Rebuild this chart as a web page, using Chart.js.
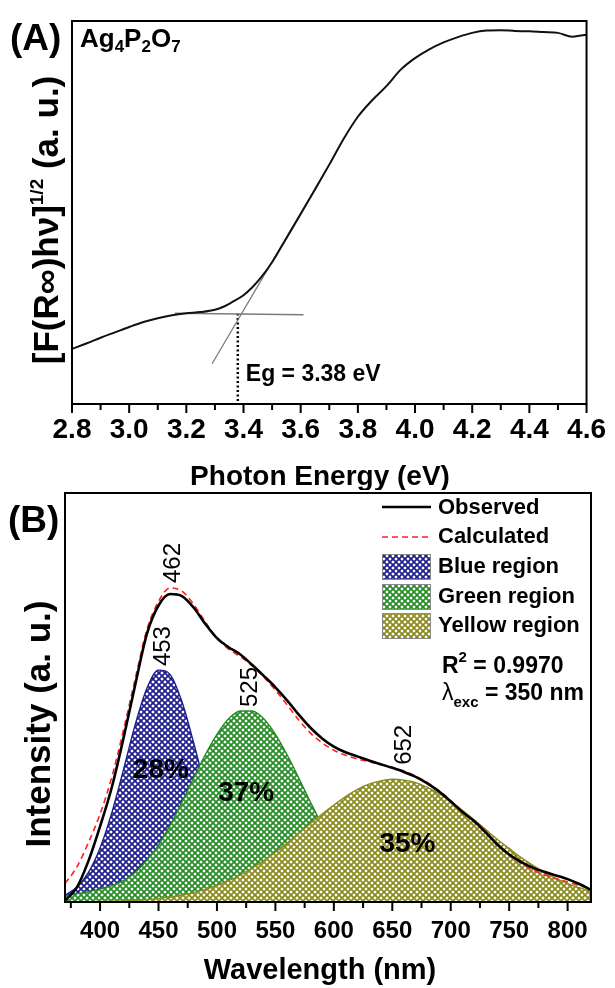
<!DOCTYPE html>
<html>
<head>
<meta charset="utf-8">
<script src="https://cdn.jsdelivr.net/npm/chart.js@4.4.1/dist/chart.umd.min.js"></script>
<style>
  html, body { margin: 0; padding: 0; background: #fff; }
  #wrap { position: relative; width: 615px; height: 988px; }
  #chartA { position: absolute; left: 0; top: 0; }
  #chartB { position: absolute; left: 0; top: 490px; }
</style>
</head>
<body>
<div id="wrap">
  <canvas id="chartA" width="615" height="490" style="width:615px;height:490px"></canvas>
  <canvas id="chartB" width="615" height="498" style="width:615px;height:498px"></canvas>
</div>
<script>
// ---- (A) Kubelka-Munk plot ----
var energy = [2.80, 2.85, 2.90, 2.95, 3.00, 3.05, 3.10, 3.15, 3.20, 3.25, 3.30, 3.33, 3.36, 3.40, 3.43, 3.46,
              3.50, 3.55, 3.60, 3.65, 3.70, 3.75, 3.80, 3.85, 3.90, 3.95, 4.00, 4.05, 4.10, 4.15, 4.20, 4.25,
              4.30, 4.35, 4.40, 4.45, 4.50, 4.55, 4.58, 4.60];
var kmSignal = [14.4, 15.8, 17.3, 18.7, 20.1, 21.4, 22.4, 23.2, 23.7, 24.0, 24.6, 25.4, 26.6, 28.4, 30.4, 32.9,
                37.0, 43.3, 49.6, 56.0, 62.5, 69.2, 75.0, 79.3, 83.0, 87.3, 90.3, 92.6, 94.4, 95.8, 96.9, 97.5,
                97.6, 97.4, 97.3, 97.1, 96.9, 95.9, 96.2, 96.4];
var slopeX = [3.29, 3.70];
var slopeY = [10.5, 62.5];
var baseX = [3.16, 3.61];
var baseY = [23.7, 23.3];
var bandGap = 3.38;
var energyTicks = [2.8, 3.0, 3.2, 3.4, 3.6, 3.8, 4.0, 4.2, 4.4, 4.6];
var energyMinor = [2.9, 3.1, 3.3, 3.5, 3.7, 3.9, 4.1, 4.3, 4.5];

// ---- (B) PL spectrum with Gaussian deconvolution ----
var wavelength = [370, 380, 390, 400, 410, 420, 430, 440, 450, 460, 470, 480, 490, 500, 510, 520,
                  530, 540, 550, 560, 570, 580, 590, 600, 610, 620, 630, 640, 650, 660, 670, 680,
                  690, 700, 710, 720, 730, 740, 750, 760, 770, 780, 790, 800, 810, 820];
var observed = [0.3, 3.5, 10.0, 18.5, 28.0, 40.0, 53.0, 65.5, 72.5, 75.3, 74.8, 72.0, 68.0, 64.5, 62.3, 60.5,
                58.0, 55.3, 52.5, 49.3, 45.8, 42.6, 40.0, 38.0, 36.6, 35.6, 34.6, 33.7, 32.8, 31.8, 30.6, 29.0,
                27.0, 24.6, 22.0, 19.8, 17.0, 14.0, 11.6, 9.8, 8.4, 7.4, 6.5, 5.6, 4.4, 3.0];
var calculated = [4.5, 8.5, 14.5, 21.5, 30.5, 42.0, 54.5, 66.5, 73.5, 76.8, 76.0, 72.8, 68.5, 64.5, 61.8, 60.0,
                  57.8, 55.0, 51.8, 48.2, 44.5, 41.3, 38.9, 37.1, 35.9, 35.0, 34.3, 33.6, 32.9, 32.0, 30.8, 29.2,
                  27.2, 24.8, 22.1, 19.6, 16.8, 14.0, 11.5, 9.5, 7.9, 6.7, 5.7, 4.9, 4.0, 3.2];
var blueBand = [1.6, 3.6, 7.2, 13.2, 21.8, 32.3, 43.3, 52.2, 56.7, 55.6, 49.0, 39.0, 28.0, 18.1, 10.5, 5.5,
                2.6, 1.1, 0.4, 0.15, 0.05, 0, 0, 0, 0, 0, 0, 0, 0, 0, 0, 0,
                0, 0, 0, 0, 0, 0, 0, 0, 0, 0, 0, 0, 0, 0];
var greenBand = [1.5, 2.0, 2.5, 3.2, 4.0, 5.2, 7.2, 10.2, 13.9, 18.8, 24.4, 30.3, 36.0, 41.0, 44.8, 46.7,
                 46.7, 44.8, 41.0, 36.0, 30.3, 24.4, 18.8, 13.9, 9.8, 6.6, 4.3, 2.9, 2.0, 1.4, 1.0, 0.7,
                 0.5, 0.4, 0.3, 0.25, 0.2, 0.2, 0.15, 0.15, 0.1, 0.1, 0.1, 0.1, 0.1, 0.1];
var yellowBand = [0.03, 0.05, 0.08, 0.12, 0.19, 0.28, 0.42, 0.61, 0.88, 1.2, 1.7, 2.3, 3.1, 4.1, 5.2, 6.6,
                  8.3, 10.1, 12.2, 14.4, 16.8, 19.2, 21.5, 23.7, 25.8, 27.5, 28.8, 29.6, 30.0, 29.8, 29.2, 28.0,
                  26.5, 24.6, 22.4, 20.1, 17.7, 15.3, 13.1, 10.9, 9.0, 7.3, 5.8, 4.5, 3.5, 2.6];
var peakCentres = [462, 453, 525, 652];
var bandShares = ['28%', '37%', '35%'];
var wlTicks = [400, 450, 500, 550, 600, 650, 700, 750, 800];
var wlMinor = [375, 425, 475, 525, 575, 625, 675, 725, 775];

var FONT = "'Liberation Sans', Arial, Helvetica, sans-serif";

function pts(xs, ys) {
    return xs.map(function (x, i) { return { x: x, y: ys[i] }; });
}

// white background with a coloured diagonal mesh
function hatch(color) {
    var p = 6, c = document.createElement('canvas');
    c.width = p; c.height = p;
    var g = c.getContext('2d');
    g.fillStyle = '#fff';
    g.fillRect(0, 0, p, p);
    g.strokeStyle = color;
    g.lineWidth = 1.7;
    g.beginPath();
    for (var k = -1; k <= 1; k++) {
        g.moveTo(-1, -1 + k * p); g.lineTo(p + 1, p + 1 + k * p);
        g.moveTo(-1, p + 1 + k * p); g.lineTo(p + 1, -1 + k * p);
    }
    g.stroke();
    return g.createPattern(c, 'repeat');
}

// draw text made of pieces with their own size / vertical shift
function rich(ctx, parts, x, y, align) {
    var w = 0;
    parts.forEach(function (p) {
        ctx.font = (p[3] === false ? '' : 'bold ') + p[1] + 'px ' + FONT;
        w += ctx.measureText(p[0]).width;
    });
    var cx = align === 'center' ? x - w / 2 : x;
    ctx.textAlign = 'left';
    ctx.textBaseline = 'alphabetic';
    parts.forEach(function (p) {
        ctx.font = (p[3] === false ? '' : 'bold ') + p[1] + 'px ' + FONT;
        ctx.fillText(p[0], cx, y + p[2]);
        cx += ctx.measureText(p[0]).width;
    });
}

function frameAndTicks(chart, major, minor, bigLen, smallLen) {
    var ctx = chart.ctx, a = chart.chartArea, xs = chart.scales.x;
    ctx.save();
    ctx.strokeStyle = '#000';
    ctx.lineWidth = 2;
    ctx.strokeRect(a.left, a.top, a.right - a.left, a.bottom - a.top);
    ctx.beginPath();
    major.forEach(function (v) {
        var px = xs.getPixelForValue(v);
        ctx.moveTo(px, a.bottom); ctx.lineTo(px, a.bottom + bigLen);
    });
    minor.forEach(function (v) {
        var px = xs.getPixelForValue(v);
        ctx.moveTo(px, a.bottom); ctx.lineTo(px, a.bottom + smallLen);
    });
    ctx.stroke();
    ctx.restore();
}

var BLUE = '#1e1e8e', GREEN = '#248c24', OLIVE = '#8a8a1c';

// ---------- chart A ----------
var decoA = {
    id: 'decoA',
    afterDraw: function (chart) {
        var ctx = chart.ctx, xs = chart.scales.x;
        frameAndTicks(chart, energyTicks, energyMinor, 9, 6);
        ctx.save();
        ctx.fillStyle = '#000';
        rich(ctx, [['(A)', 37, 0]], 10, 50);
        rich(ctx, [['Ag', 26, 0], ['4', 17, 5], ['P', 26, 0], ['2', 17, 5], ['O', 26, 0], ['7', 17, 5]], 80, 47);
        rich(ctx, [['Eg = 3.38 eV', 23, 0]], xs.getPixelForValue(bandGap) + 8, 381);
        rich(ctx, [['Photon Energy (eV)', 28, 0]], 320, 485, 'center');
        ctx.translate(58, 220);
        ctx.rotate(-Math.PI / 2);
        rich(ctx, [['[F(R\u221E)h\u03BD]', 35, 0], ['1/2', 19, -15], [' (a. u.)', 35, 0]], 0, 0, 'center');
        ctx.restore();
    }
};

new Chart(document.getElementById('chartA').getContext('2d'), {
    type: 'line',
    data: {
        datasets: [{
            data: pts(energy, kmSignal),
            borderColor: '#111',
            borderWidth: 2,
            pointRadius: 0,
            cubicInterpolationMode: 'monotone'
        }, {
            data: pts(slopeX, slopeY),
            borderColor: '#7a7a7a',
            borderWidth: 1.3,
            pointRadius: 0
        }, {
            data: pts(baseX, baseY),
            borderColor: '#7a7a7a',
            borderWidth: 1.3,
            pointRadius: 0
        }, {
            data: pts([bandGap, bandGap], [baseY[0] - 0.1, 0]),
            borderColor: '#000',
            borderWidth: 2.5,
            borderDash: [2, 2.5],
            pointRadius: 0
        }]
    },
    options: {
        responsive: false,
        animation: false,
        devicePixelRatio: 1,
        layout: { padding: { left: 72, right: 22, top: 21, bottom: 0 } },
        plugins: { legend: { display: false }, tooltip: { enabled: false } },
        scales: {
            x: {
                type: 'linear',
                min: 2.8,
                max: 4.6,
                afterBuildTicks: function (s) { s.ticks = energyTicks.map(function (v) { return { value: v }; }); },
                afterFit: function (s) { s.height = 86; },
                grid: { display: false, drawTicks: false },
                border: { display: false },
                ticks: {
                    autoSkip: false,
                    maxRotation: 0,
                    padding: 9,
                    color: '#000',
                    font: { family: FONT, size: 28, weight: 'bold' },
                    callback: function (v) { return v.toFixed(1); }
                }
            },
            y: { min: 0, max: 100, display: false }
        }
    },
    plugins: [decoA]
});

// ---------- chart B ----------
var decoB = {
    id: 'decoB',
    afterDatasetsDraw: function (chart) {
        var ctx = chart.ctx, xs = chart.scales.x, ys = chart.scales.y;
        var tops = [Math.max.apply(null, observed), Math.max.apply(null, blueBand),
                    Math.max.apply(null, greenBand), observed[wavelength.indexOf(650)]];
        var gaps = [11, 4, 4, 3];
        var nudge = [1, 1, 4, 10];
        ctx.save();
        ctx.fillStyle = '#000';
        peakCentres.forEach(function (wl, i) {
            ctx.save();
            ctx.translate(xs.getPixelForValue(wl) + nudge[i], ys.getPixelForValue(tops[i]) - gaps[i]);
            ctx.rotate(-Math.PI / 2);
            ctx.font = '24px ' + FONT;
            ctx.textAlign = 'left';
            ctx.textBaseline = 'middle';
            ctx.fillText(String(wl), 0, 0);
            ctx.restore();
        });
        var shareAt = [[452, 32.3], [525, 26.6], [663, 14]];
        ctx.font = 'bold 28px ' + FONT;
        ctx.textAlign = 'center';
        ctx.textBaseline = 'middle';
        bandShares.forEach(function (t, i) {
            ctx.fillText(t, xs.getPixelForValue(shareAt[i][0]), ys.getPixelForValue(shareAt[i][1]));
        });
        ctx.restore();
    },
    afterDraw: function (chart) {
        var ctx = chart.ctx, ds = chart.data.datasets;
        frameAndTicks(chart, wlTicks, wlMinor, 9, 6);
        ctx.save();
        ctx.fillStyle = '#000';
        rich(ctx, [['(B)', 37, 0]], 8, 42);

        // legend
        var lx = 382, tx = 438;
        ctx.lineWidth = 2.6;
        ctx.strokeStyle = '#000';
        ctx.beginPath(); ctx.moveTo(lx, 17); ctx.lineTo(lx + 49, 17); ctx.stroke();
        ctx.lineWidth = 1.6;
        ctx.strokeStyle = '#ff2020';
        ctx.setLineDash([6, 4]);
        ctx.beginPath(); ctx.moveTo(lx, 47); ctx.lineTo(lx + 49, 47); ctx.stroke();
        ctx.setLineDash([]);
        [[ds[2], 64], [ds[3], 94], [ds[4], 123]].forEach(function (b) {
            ctx.fillStyle = b[0].backgroundColor;
            ctx.fillRect(lx, b[1], 49, 26);
            ctx.strokeStyle = '#8a8a8a';
            ctx.lineWidth = 1;
            ctx.strokeRect(lx + 0.5, b[1] + 0.5, 48, 25);
        });
        ctx.fillStyle = '#000';
        ctx.font = 'bold 22px ' + FONT;
        ctx.textAlign = 'left';
        ctx.textBaseline = 'middle';
        [['Observed', 18], ['Calculated', 47], ['Blue region', 77], ['Green region', 107], ['Yellow region', 136]]
            .forEach(function (l) { ctx.fillText(l[0], tx, l[1]); });

        rich(ctx, [['R', 23, 0], ['2', 15, -11], [' = 0.9970', 23, 0]], 442, 183);
        rich(ctx, [['\u03BB', 23, 0, false], ['exc', 15, 7], [' = 350 nm', 23, 0]], 442, 210);

        rich(ctx, [['Wavelength (nm)', 29, 0]], 320, 489, 'center');
        ctx.translate(50, 234);
        ctx.rotate(-Math.PI / 2);
        rich(ctx, [['Intensity (a. u.)', 35, 0]], 0, 0, 'center');
        ctx.restore();
    }
};

new Chart(document.getElementById('chartB').getContext('2d'), {
    type: 'line',
    data: {
        labels: wavelength,
        datasets: [{
            label: 'Observed',
            data: pts(wavelength, observed),
            borderColor: '#000',
            borderWidth: 2.6,
            pointRadius: 0,
            cubicInterpolationMode: 'monotone',
            order: 0
        }, {
            label: 'Calculated',
            data: pts(wavelength, calculated),
            borderColor: '#ff2020',
            borderWidth: 1.6,
            borderDash: [6, 4],
            pointRadius: 0,
            cubicInterpolationMode: 'monotone',
            order: 1
        }, {
            label: 'Blue region',
            data: pts(wavelength, blueBand),
            borderColor: BLUE,
            borderWidth: 1.4,
            backgroundColor: hatch(BLUE),
            fill: 'origin',
            pointRadius: 0,
            cubicInterpolationMode: 'monotone',
            order: 4
        }, {
            label: 'Green region',
            data: pts(wavelength, greenBand),
            borderColor: GREEN,
            borderWidth: 1.4,
            backgroundColor: hatch(GREEN),
            fill: 'origin',
            pointRadius: 0,
            cubicInterpolationMode: 'monotone',
            order: 3
        }, {
            label: 'Yellow region',
            data: pts(wavelength, yellowBand),
            borderColor: OLIVE,
            borderWidth: 1.4,
            backgroundColor: hatch(OLIVE),
            fill: 'origin',
            pointRadius: 0,
            cubicInterpolationMode: 'monotone',
            order: 2
        }]
    },
    options: {
        responsive: false,
        animation: false,
        devicePixelRatio: 1,
        layout: { padding: { left: 65, right: 24, top: 3, bottom: 0 } },
        plugins: { legend: { display: false }, tooltip: { enabled: false } },
        scales: {
            x: {
                type: 'linear',
                min: 370,
                max: 820,
                afterBuildTicks: function (s) { s.ticks = wlTicks.map(function (v) { return { value: v }; }); },
                afterFit: function (s) { s.height = 86; },
                grid: { display: false, drawTicks: false },
                border: { display: false },
                ticks: {
                    autoSkip: false,
                    maxRotation: 0,
                    padding: 15,
                    color: '#000',
                    font: { family: FONT, size: 24, weight: 'bold' }
                }
            },
            y: { min: 0, max: 100, display: false }
        }
    },
    plugins: [decoB]
});
</script>
</body>
</html>
